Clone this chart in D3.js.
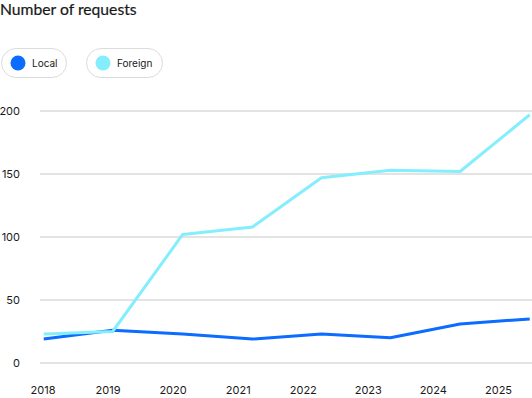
<!DOCTYPE html>
<html>
<head>
<meta charset="utf-8">
<style>
    body { margin: 0; background: #fff; }
    text { font-family: Inter, "Noto Sans", sans-serif; fill: #1a1a1a; }
    .grid line { stroke: #e3e3e3; stroke-width: 2; }
    .pill { fill: #fff; stroke: #dcdcdc; stroke-width: 1; }
</style>
</head>
<body>
<div id="chart"></div>
<script src="https://cdn.jsdelivr.net/npm/d3@7"></script>
<script>

//////////////////// data ////////////////////
const years = ['2018', '2019', '2020', '2021', '2022', '2023', '2024', '2025'];
const periods = ['2018-01-08', '2019-01-30', '2020-02-27', '2021-03-25', '2022-04-16', '2023-05-08', '2024-06-02', '2025-06-28'];
const local = [19, 26, 23, 19, 23, 20, 31, 35];
const foreign = [23, 25, 102, 108, 147, 153, 152, 197];
const yTicks = [0, 50, 100, 150, 200];

const seriesNames = ['Local', 'Foreign'];
const colors = ['#0b6cff', '#84eefd'];

//////////////////// layout ////////////////////
const W = 532, H = 398;
const parse = d3.timeParse('%Y-%m-%d');

const svg = d3.select('#chart').append('svg')
    .attr('width', W)
    .attr('height', H);

const x = d3.scaleTime()
    .domain([new Date(2018, 0, 1), new Date(2025, 0, 1)])
    .range([42.5, 498]);

const y = d3.scaleLinear()
    .domain([0, 200])
    .range([363, 111]);

// titre
svg.append('text')
    .attr('x', 0)
    .attr('y', 15)
    .style('font-family', 'Lato, sans-serif')
    .style('font-size', '15.7px')
    .attr('fill', '#111')
    .style('stroke', '#111')
    .style('stroke-width', 0.2)
    .text('Number of requests');

// legende
const pills = [{x: 1, w: 65}, {x: 86, w: 76}];
seriesNames.forEach((name, i) => {
    const g = svg.append('g').attr('transform', `translate(${pills[i].x}, 48)`);
    g.append('rect')
        .classed('pill', true)
        .attr('x', 0.5).attr('y', 0.5)
        .attr('width', pills[i].w).attr('height', 29)
        .attr('rx', 14.5);
    g.append('circle')
        .attr('cx', 17).attr('cy', 15)
        .attr('r', 7.5)
        .attr('fill', colors[i]);
    g.append('text')
        .attr('x', 31).attr('y', 18.5)
        .style('font-size', '10px')
        .text(name);
});

// grille + axe y
const grid = svg.append('g').classed('grid', true);
grid.selectAll('line').data(yTicks).join('line')
    .attr('x1', 40).attr('x2', W)
    .attr('y1', d => y(d)).attr('y2', d => y(d));

svg.append('g').selectAll('text').data(yTicks).join('text')
    .attr('x', 20)
    .attr('y', d => y(d) + 4)
    .attr('text-anchor', 'end')
    .style('font-size', '11px')
    .text(d => d);

// axe x
const xAxis = svg.append('g')
    .attr('transform', 'translate(0, 380)')
    .call(d3.axisBottom(x)
        .tickValues(years.map(d => new Date(+d, 0, 1)))
        .tickFormat(d3.timeFormat('%Y'))
        .tickSize(0)
        .tickPadding(6));
xAxis.select('.domain').remove();
xAxis.selectAll('text')
    .style('font-size', '11px')
    .style('font-family', 'Inter, "Noto Sans", sans-serif')
    .attr('fill', '#1a1a1a');

// lignes
const line = d3.line()
    .x((d, i) => x(parse(periods[i])))
    .y(d => y(d));

[local, foreign].forEach((serie, i) => {
    svg.append('path')
        .datum(serie)
        .attr('fill', 'none')
        .attr('stroke', colors[i])
        .attr('stroke-width', 3)
        .attr('stroke-linejoin', 'round')
        .attr('d', line);
});

</script>
</body>
</html>
